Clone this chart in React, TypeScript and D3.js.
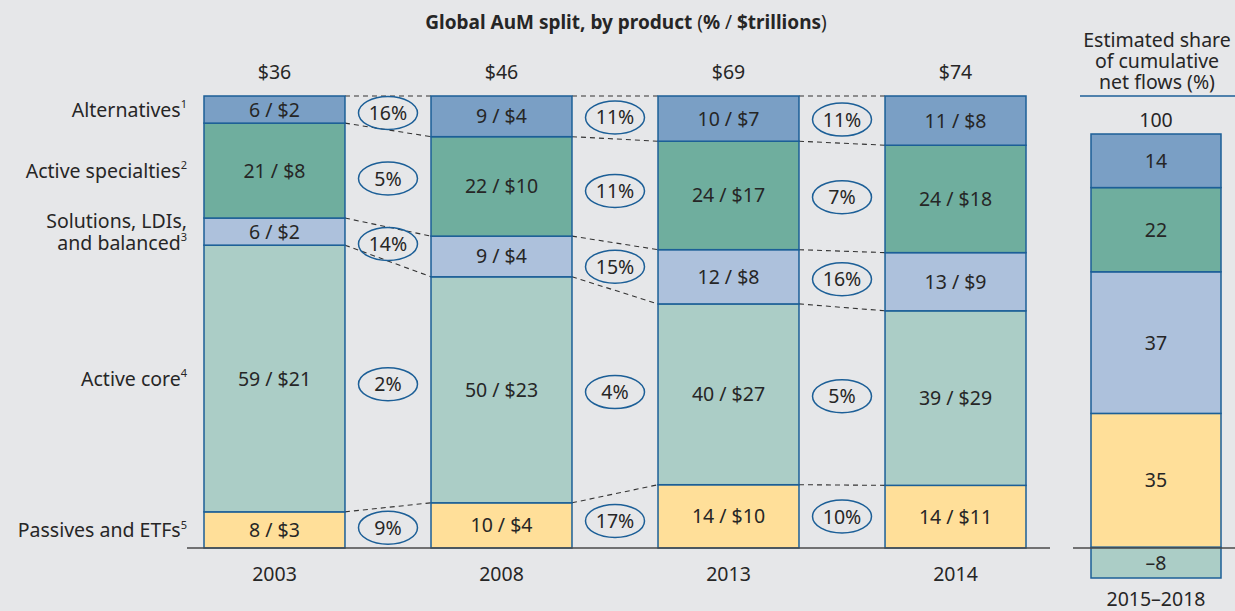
import React from "react";
import * as d3 from "d3";

const years = ["2003", "2008", "2013", "2014"];
const totalLabels = ["$36", "$46", "$69", "$74"];

// categories from bottom to top
const categoryKeys = ["passives", "core", "solutions", "specialties", "alternatives"];
const categoryLabels: string[][] = [
  ["Passives and ETFs"],
  ["Active core"],
  ["Solutions, LDIs,", "and balanced"],
  ["Active specialties"],
  ["Alternatives"],
];
const footnotes = ["5", "4", "3", "2", "1"];

const pctPassives = [8, 10, 14, 14];
const pctCore = [59, 50, 40, 39];
const pctSolutions = [6, 9, 12, 13];
const pctSpecialties = [21, 22, 24, 24];
const pctAlternatives = [6, 9, 10, 11];

const usdPassives = [3, 4, 10, 11];
const usdCore = [21, 23, 27, 29];
const usdSolutions = [2, 4, 8, 9];
const usdSpecialties = [8, 10, 17, 18];
const usdAlternatives = [2, 4, 7, 8];

const growthPassives = ["9%", "17%", "10%"];
const growthCore = ["2%", "4%", "5%"];
const growthSolutions = ["14%", "15%", "16%"];
const growthSpecialties = ["5%", "11%", "7%"];
const growthAlternatives = ["16%", "11%", "11%"];

const flowLabel = "2015–2018";
const flowTotal = "100";
const flowPassives = 35;
const flowCore = -8;
const flowSolutions = 37;
const flowSpecialties = 22;
const flowAlternatives = 14;

const pctSeries = [pctPassives, pctCore, pctSolutions, pctSpecialties, pctAlternatives];
const usdSeries = [usdPassives, usdCore, usdSolutions, usdSpecialties, usdAlternatives];
const growthSeries = [growthPassives, growthCore, growthSolutions, growthSpecialties, growthAlternatives];
const flowSeries = [flowPassives, flowCore, flowSolutions, flowSpecialties, flowAlternatives];

const colors: Record<string, string> = {
  passives: "#ffdf99",
  core: "#abcdc6",
  solutions: "#adc1dc",
  specialties: "#6fae9e",
  alternatives: "#7a9fc5",
};

const BG = "#e6e7e9";
const STROKE = "#1c5f97";
const TEXT = "#262626";
const FONT = "'Noto Sans', 'Open Sans', sans-serif";

export default function App() {
  const W = 1235;
  const H = 611;
  const baseY = 548;
  const topY = 96;

  const x = d3
    .scaleBand<string>()
    .domain(years)
    .range([204, 1026])
    .paddingInner(0.379)
    .paddingOuter(0);
  const bw = x.bandwidth();

  const stacks = years.map((yr, i) => {
    const vals = pctSeries.map((s) => s[i]);
    const total = d3.sum(vals);
    const y = d3.scaleLinear().domain([0, total]).range([baseY, topY]);
    let acc = 0;
    return vals.map((v, k) => {
      const y0 = y(acc);
      acc += v;
      const y1 = y(acc);
      return { key: categoryKeys[k], k, y0, y1, mid: (y0 + y1) / 2, pct: v, usd: usdSeries[k][i] };
    });
  });

  const posSum = d3.sum(flowSeries.filter((v) => v > 0));
  const negSum = d3.sum(flowSeries.filter((v) => v < 0));
  const yr = d3.scaleLinear().domain([negSum, posSum]).range([578, 134]);
  const rx0 = 1091;
  const rw = 130;
  const rcx = rx0 + rw / 2;
  const order = [0, 2, 3, 4];
  let accPos = 0;
  const flowRects: { k: number; y0: number; y1: number; v: number }[] = [];
  order.forEach((k) => {
    const v = flowSeries[k];
    const a = yr(accPos);
    accPos += v;
    const b = yr(accPos);
    flowRects.push({ k, y0: a, y1: b, v });
  });
  flowRects.push({ k: 1, y0: yr(flowSeries[1]), y1: yr(0), v: flowSeries[1] });

  const fs = 19.5;

  return (
    <div style={{ position: "absolute", left: 0, top: 0, width: W, height: H, background: BG }}>
      <svg width={W} height={H} style={{ display: "block", fontFamily: FONT }}>
        <rect x={0} y={0} width={W} height={H} fill={BG} />

        <text x={626} y={29} textAnchor="middle" fontSize={19} fill={TEXT}>
          <tspan fontWeight="bold">Global AuM split, by product </tspan>
          <tspan>(</tspan>
          <tspan fontWeight="bold">%</tspan>
          <tspan> / </tspan>
          <tspan fontWeight="bold">$trillions</tspan>
          <tspan>)</tspan>
        </text>

        {years.slice(0, -1).map((yrName, i) => {
          const xa = (x(yrName) as number) + bw;
          const xb = x(years[i + 1]) as number;
          const a = stacks[i];
          const b = stacks[i + 1];
          const lines = [
            { y1: a[4].y1, y2: b[4].y1 },
            ...[0, 1, 2, 3].map((k) => ({ y1: a[k].y1, y2: b[k].y1 })),
          ];
          return (
            <g key={"dash" + i}>
              {lines.map((l, j) => (
                <line
                  key={j}
                  x1={xa}
                  x2={xb}
                  y1={l.y1}
                  y2={l.y2}
                  stroke="#333"
                  strokeWidth={1.1}
                  strokeDasharray="5,4"
                />
              ))}
            </g>
          );
        })}

        {years.map((yrName, i) => {
          const x0 = x(yrName) as number;
          return (
            <g key={yrName}>
              {stacks[i].map((s) => (
                <g key={s.key}>
                  <rect
                    x={x0}
                    y={s.y1}
                    width={bw}
                    height={s.y0 - s.y1}
                    fill={colors[s.key]}
                    stroke={STROKE}
                    strokeWidth={1.5}
                  />
                  <text
                    x={x0 + bw / 2}
                    y={s.mid}
                    dy="0.36em"
                    textAnchor="middle"
                    fontSize={fs}
                    fill={TEXT}
                  >
                    {`${s.pct} / $${s.usd}`}
                  </text>
                </g>
              ))}
              <text x={x0 + bw / 2} y={72} dy="0.36em" textAnchor="middle" fontSize={fs} fill={TEXT}>
                {totalLabels[i]}
              </text>
              <text x={x0 + bw / 2} y={574} dy="0.36em" textAnchor="middle" fontSize={fs} fill={TEXT}>
                {yrName}
              </text>
            </g>
          );
        })}

        {years.slice(0, -1).map((yrName, i) => {
          const xa = (x(yrName) as number) + bw;
          const xb = x(years[i + 1]) as number;
          const cx = (xa + xb) / 2;
          return (
            <g key={"g" + i}>
              {categoryKeys.map((key, k) => {
                const cy = (stacks[i][k].mid + stacks[i + 1][k].mid) / 2;
                return (
                  <g key={key}>
                    <ellipse cx={cx} cy={cy} rx={29.5} ry={16.5} fill="none" stroke={STROKE} strokeWidth={1.5} />
                    <text x={cx} y={cy} dy="0.36em" textAnchor="middle" fontSize={fs} fill={TEXT}>
                      {growthSeries[k][i]}
                    </text>
                  </g>
                );
              })}
            </g>
          );
        })}

        {categoryKeys.map((key, k) => {
          const cy = stacks[0][k].mid;
          const lines = categoryLabels[k];
          const lh = 22;
          const start = cy - ((lines.length - 1) * lh) / 2;
          return (
            <text key={key} textAnchor="end" fontSize={fs} fill={TEXT}>
              {lines.map((ln, j) => (
                <tspan key={j} x={187} y={start + j * lh} dy="0.36em">
                  {ln}
                  {j === lines.length - 1 ? (
                    <tspan fontSize={11} dy="-0.75em">
                      {footnotes[k]}
                    </tspan>
                  ) : null}
                </tspan>
              ))}
            </text>
          );
        })}

        <line x1={187} x2={1050} y1={baseY} y2={baseY} stroke="#4a4a4a" strokeWidth={1.5} />

        <text textAnchor="middle" fontSize={fs} fill={TEXT}>
          <tspan x={1157} y={40} dy="0.36em">Estimated share</tspan>
          <tspan x={1157} y={61} dy="0.36em">of cumulative</tspan>
          <tspan x={1157} y={82} dy="0.36em">net flows (%)</tspan>
        </text>
        <line x1={1080} x2={1235} y1={96} y2={96} stroke={STROKE} strokeWidth={1.5} />
        <text x={rcx} y={120} dy="0.36em" textAnchor="middle" fontSize={fs} fill={TEXT}>
          {flowTotal}
        </text>
        {flowRects.map((r) => (
          <g key={"f" + r.k}>
            <rect
              x={rx0}
              y={Math.min(r.y0, r.y1)}
              width={rw}
              height={Math.abs(r.y0 - r.y1)}
              fill={colors[categoryKeys[r.k]]}
              stroke={STROKE}
              strokeWidth={1.5}
            />
            <text
              x={rcx}
              y={(r.y0 + r.y1) / 2}
              dy="0.36em"
              textAnchor="middle"
              fontSize={fs}
              fill={TEXT}
            >
              {r.v < 0 ? `–${Math.abs(r.v)}` : `${r.v}`}
            </text>
          </g>
        ))}
        <line x1={1073} x2={1235} y1={baseY} y2={baseY} stroke="#4a4a4a" strokeWidth={1.5} />
        <text x={rcx} y={599} dy="0.36em" textAnchor="middle" fontSize={fs} fill={TEXT}>
          {flowLabel}
        </text>
      </svg>
    </div>
  );
}
